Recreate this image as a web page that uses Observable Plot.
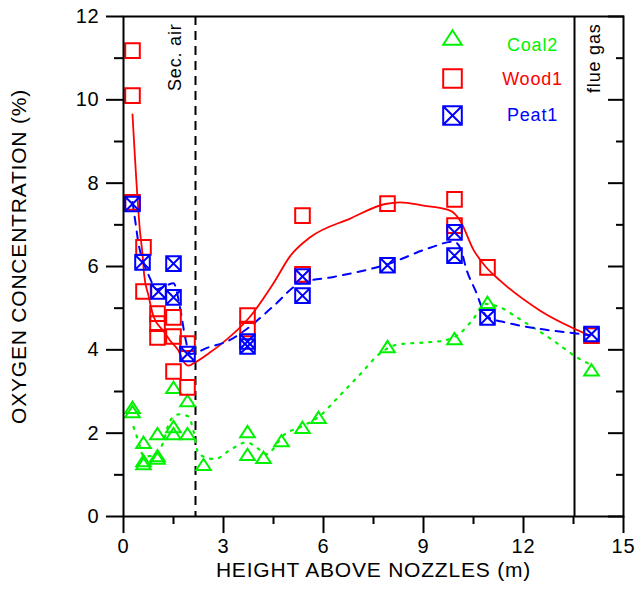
<!DOCTYPE html>
<html><head><meta charset="utf-8">
<script src="https://cdn.jsdelivr.net/npm/d3@7"></script>
<script src="https://cdn.jsdelivr.net/npm/@observablehq/plot@0.6"></script>
<style>body{margin:0;background:#fff}</style>
</head><body><div id="chart"></div>
<script>
// measured points [height (m), O2 (%)]
const coal2Points = [[0.27,2.62],[0.27,2.52],[0.6,1.78],[0.6,1.34],[0.6,1.27],[1.02,1.99],[1.02,1.46],[1.02,1.40],[1.5,3.1],[1.5,2.16],[1.5,1.99],[1.92,2.78],[1.92,1.99],[2.4,1.25],[3.72,2.04],[3.72,1.49],[4.2,1.42],[4.74,1.82],[5.37,2.14],[5.85,2.38],[7.92,4.08],[9.93,4.27],[10.92,5.14],[14.04,3.52]];
const wood1Points = [[0.27,11.18],[0.27,10.1],[0.27,7.54],[0.6,6.46],[0.6,5.4],[1.02,4.87],[1.02,4.63],[1.02,4.3],[1.5,4.78],[1.5,4.32],[1.5,3.48],[1.92,4.15],[1.92,3.1],[3.72,4.82],[3.72,4.5],[5.37,7.22],[5.37,5.81],[7.92,7.51],[9.93,7.61],[9.93,6.98],[10.92,5.98],[14.04,4.34]];
const peat1Points = [[0.27,7.5],[0.57,6.1],[1.05,5.4],[1.5,6.07],[1.5,5.26],[1.92,3.9],[3.72,4.2],[3.72,4.08],[5.37,5.76],[5.37,5.3],[7.92,6.03],[9.93,6.82],[9.93,6.26],[10.92,4.78],[14.04,4.38]];
// fitted trend curves
const coal2Trend = [[0.3,2.15],[0.45,1.8],[0.6,1.45],[0.8,1.45],[1.15,1.7],[1.4,2.3],[1.65,2.45],[1.95,2.4],[2.1,2.05],[2.25,1.5],[2.75,1.38],[3.2,1.6],[3.7,1.78],[4.0,1.65],[4.3,1.5],[4.8,1.95],[5.4,2.18],[5.9,2.42],[6.4,2.83],[7.2,3.5],[7.6,3.85],[8.25,4.13],[9.1,4.18],[9.6,4.22],[10.1,4.4],[10.5,4.75],[10.85,5.1],[11.3,5.02],[11.8,4.78],[12.9,4.22],[13.6,3.82],[14.0,3.65]];
const wood1Trend = [[0.27,9.65],[0.5,6.8],[0.57,6.3],[0.62,5.8],[0.75,5.3],[0.9,4.8],[1.2,4.45],[1.4,4.22],[1.65,3.98],[1.8,3.72],[1.95,3.62],[2.15,3.7],[2.6,3.94],[2.9,4.12],[3.8,4.8],[4.5,5.6],[5.0,6.25],[5.6,6.7],[6.8,7.15],[7.85,7.5],[8.3,7.54],[9.0,7.46],[9.8,7.34],[10.1,7.1],[10.5,6.4],[10.86,6.0],[11.3,5.66],[12.5,4.94],[14.0,4.34]];
const peat1Trend = [[0.27,7.55],[0.36,7.05],[0.45,6.55],[0.6,6.1],[0.75,5.8],[1.0,5.45],[1.3,5.55],[1.5,5.6],[1.7,5.0],[1.85,4.3],[2.0,3.9],[2.55,4.06],[3.1,4.2],[3.7,4.5],[4.5,5.05],[5.3,5.6],[6.3,5.75],[7.9,6.05],[9.2,6.45],[9.9,6.6],[10.1,6.45],[10.3,5.9],[10.56,5.42],[10.9,4.8],[11.5,4.65],[12.5,4.5],[13.3,4.42],[14.0,4.35]];
const xMajor = [0,3,6,9,12,15];
const xMinor = [1.5,4.5,7.5,10.5,13.5];
const yMajor = [0,2,4,6,8,10,12];
const yMinor = [1,3,5,7,9,11];
const secAirX = 2.16;
const flueGasX = 13.53;
const seriesNames = ["Coal2","Wood1","Peat1"];
const seriesColors = ["#00f200","#ff0000","#0000ff"];

const triangleSym = {draw(ctx, size){const r=Math.sqrt(size/Math.PI);const h=r*1.55;ctx.moveTo(0,-h/2);ctx.lineTo(r,h/2);ctx.lineTo(-r,h/2);ctx.closePath();}};
const squareSym = {draw(ctx, size){const r=Math.sqrt(size/Math.PI);ctx.rect(-r,-r,2*r,2*r);}};
const boxXSym = {draw(ctx, size){const r=Math.sqrt(size/Math.PI);ctx.rect(-r,-r,2*r,2*r);ctx.moveTo(-r,-r);ctx.lineTo(r,r);ctx.moveTo(-r,r);ctx.lineTo(r,-r);}};
const symbols = [triangleSym, squareSym, boxXSym];
const pointSets = [coal2Points, wood1Points, peat1Points];

const legendMarks = [];
const legendSymDy = [21, 62, 99];
const legendTextDy = [29, 63, 99];
seriesNames.forEach((name, i) => {
  legendMarks.push(Plot.dot([name], {frameAnchor: "top-left", dx: 329, dy: legendSymDy[i], r: 9.3, symbol: symbols[i], stroke: seriesColors[i], strokeWidth: 2, fill: "none"}));
  legendMarks.push(Plot.text([name], {frameAnchor: "top-left", dx: 409, dy: legendTextDy[i], text: d => d, fill: seriesColors[i], fontSize: 18, textAnchor: "middle", lineAnchor: "middle"}));
});

const chart = Plot.plot({
  width: 637, height: 593,
  marginLeft: 123, marginRight: 14, marginTop: 16, marginBottom: 77,
  x: {domain: [0, 15]},
  y: {domain: [0, 12]},
  style: {fontFamily: "'Liberation Sans', Arial, sans-serif", fontSize: "20px", letterSpacing: "0.8px", background: "white", color: "black"},
  marks: [
    Plot.ruleX([secAirX], {stroke: "black", strokeWidth: 2, strokeDasharray: "9,6"}),
    Plot.ruleX([flueGasX], {stroke: "black", strokeWidth: 2}),
    Plot.text(["Sec. air"], {x: secAirX, frameAnchor: "top", dx: -20, dy: 7, rotate: -90, textAnchor: "end", lineAnchor: "middle", fontSize: 18, text: d => d, fill: "black"}),
    Plot.text(["flue gas"], {x: flueGasX, frameAnchor: "top", dx: 20, dy: 7, rotate: -90, textAnchor: "end", lineAnchor: "middle", fontSize: 18, text: d => d, fill: "black"}),
    Plot.line(coal2Trend, {x: d => d[0], y: d => d[1], stroke: seriesColors[0], strokeWidth: 2.2, strokeDasharray: "2,7", curve: "monotone-x"}),
    Plot.line(wood1Trend, {x: d => d[0], y: d => d[1], stroke: seriesColors[1], strokeWidth: 1.8, curve: "monotone-x"}),
    Plot.line(peat1Trend, {x: d => d[0], y: d => d[1], stroke: seriesColors[2], strokeWidth: 2, strokeDasharray: "8,7", curve: "monotone-x"}),
    ...pointSets.map((pts, i) => Plot.dot(pts, {x: d => d[0], y: d => d[1], r: 7.3, symbol: symbols[i], stroke: seriesColors[i], strokeWidth: 2, fill: "none"})),
    ...legendMarks,
    Plot.axisX(xMajor, {tickSize: 17, tickPadding: 5, strokeWidth: 2, label: null, fontSize: 20}),
    Plot.axisX(xMinor, {tickSize: 8, strokeWidth: 2, text: null, label: null}),
    Plot.axisY(yMajor, {tickSize: 17, tickPadding: 7, strokeWidth: 2, label: null, fontSize: 20}),
    Plot.axisY(yMinor, {tickSize: 9, strokeWidth: 2, text: null, label: null}),
    Plot.axisY(yMajor, {anchor: "right", tickSize: 16, dx: -16, strokeWidth: 2, text: null, label: null}),
    Plot.axisY(yMinor, {anchor: "right", tickSize: 8, dx: -8, strokeWidth: 2, text: null, label: null}),
    Plot.frame({stroke: "black", strokeWidth: 2}),
    Plot.text(["HEIGHT ABOVE NOZZLES (m)"], {frameAnchor: "bottom", dy: 54, lineAnchor: "middle", textAnchor: "middle", text: d => d, fontSize: 21, fill: "black"}),
    Plot.text(["OXYGEN CONCENTRATION (%)"], {frameAnchor: "left", dx: -104, dy: -10, rotate: -90, textAnchor: "middle", lineAnchor: "middle", text: d => d, fontSize: 21, fill: "black"})
  ]
});
document.getElementById("chart").appendChild(chart);
</script>
</body></html>
